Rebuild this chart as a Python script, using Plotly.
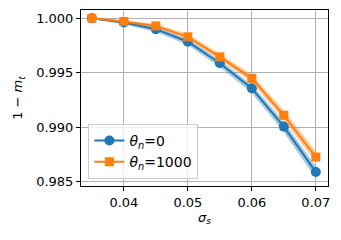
import plotly.graph_objects as go

sigma_s = [0.035, 0.04, 0.045, 0.05, 0.055, 0.06, 0.065, 0.07]
blue_mean = [1.0000, 0.99962, 0.99900, 0.99785, 0.99587, 0.99357, 0.99006, 0.98589]
blue_lo = [0.99990, 0.99945, 0.99875, 0.99755, 0.99550, 0.99315, 0.98955, 0.98530]
blue_hi = [1.00005, 0.99975, 0.99920, 0.99810, 0.99615, 0.99390, 0.99050, 0.98640]
orange_mean = [1.0000, 0.99970, 0.99930, 0.99830, 0.99646, 0.99449, 0.99110, 0.98727]
orange_lo = [0.99995, 0.99958, 0.99912, 0.99805, 0.99615, 0.99410, 0.99065, 0.98675]
orange_hi = [1.00007, 0.99982, 0.99948, 0.99855, 0.99675, 0.99485, 0.99155, 0.98780]
x_ticks = [0.04, 0.05, 0.06, 0.07]
y_ticks = [0.985, 0.990, 0.995, 1.000]

BLUE = "#1f77b4"
ORANGE = "#ff7f0e"

fig = go.Figure()

def band(lo, hi, rgba):
    fig.add_trace(go.Scatter(x=sigma_s + sigma_s[::-1], y=hi + lo[::-1], fill="toself",
                             fillcolor=rgba, line=dict(width=0), mode="lines",
                             showlegend=False, hoverinfo="skip"))

band(blue_lo, blue_hi, "rgba(31,119,180,0.4)")
fig.add_trace(go.Scatter(x=sigma_s, y=blue_mean, mode="lines+markers",
                         name="<i>θ</i><sub><i>n</i></sub>=0",
                         line=dict(color=BLUE, width=2),
                         marker=dict(symbol="circle", size=10, color=BLUE)))
band(orange_lo, orange_hi, "rgba(255,127,14,0.4)")
fig.add_trace(go.Scatter(x=sigma_s, y=orange_mean, mode="lines+markers",
                         name="<i>θ</i><sub><i>n</i></sub>=1000",
                         line=dict(color=ORANGE, width=2),
                         marker=dict(symbol="square", size=9, color=ORANGE)))

axis_common = dict(showline=True, linecolor="black", linewidth=1, mirror=True,
                   ticks="outside", ticklen=4, tickcolor="black",
                   showgrid=True, gridcolor="#b0b0b0", gridwidth=1, zeroline=False,
                   tickfont=dict(family="DejaVu Sans", size=13, color="black"))

fig.update_layout(
    width=333, height=232,
    margin=dict(l=73, r=13, t=2, b=54),
    paper_bgcolor="white", plot_bgcolor="white",
    font=dict(family="DejaVu Sans", size=13, color="black"),
    xaxis=dict(range=[0.0333, 0.0719], tickvals=x_ticks,
               ticktext=[f"{v:.2f}" for v in x_ticks],
               title=dict(text="<i>σ</i><sub><i>s</i></sub>", standoff=2,
                          font=dict(size=13)),
               **axis_common),
    yaxis=dict(range=[0.98461, 1.00076], tickvals=y_ticks,
               ticktext=[f"{v:.3f}" for v in y_ticks],
               title=dict(text="1 − <i>m</i><sub><i>t</i></sub>", standoff=10,
                          font=dict(size=13)),
               **axis_common),
    legend=dict(x=0.03, y=0.04, xanchor="left", yanchor="bottom",
                bgcolor="rgba(255,255,255,0.8)", bordercolor="#cccccc", borderwidth=1,
                font=dict(size=14), tracegroupgap=0, itemwidth=30),
)

fig.write_html("out.html")
